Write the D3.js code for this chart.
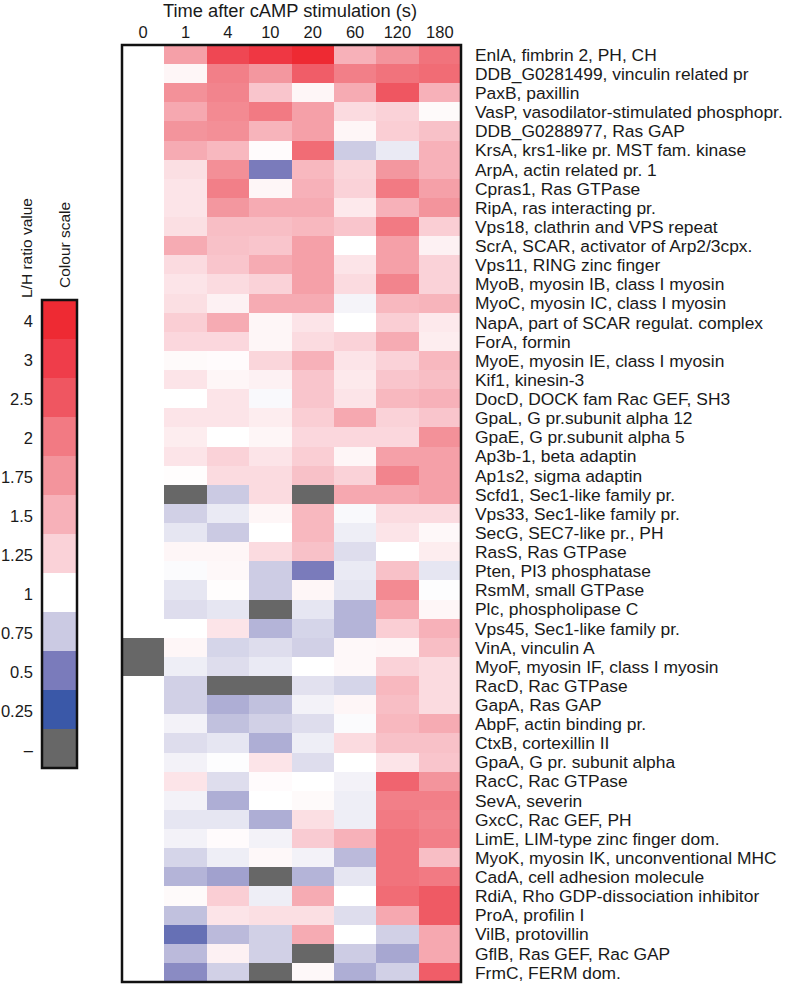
<!DOCTYPE html>
<html><head><meta charset="utf-8">
<script src="https://cdn.jsdelivr.net/npm/d3@7"></script>
<style>
body{margin:0;background:#fff}
text{font-family:"Liberation Sans",Arial,Helvetica,sans-serif;fill:#1a1a1a}
</style></head>
<body><svg id="chart" width="788" height="985"></svg>
<script>
const times = ["0","1","4","10","20","60","120","180"];
const proteins = [
"EnlA, fimbrin 2, PH, CH","DDB_G0281499, vinculin related pr","PaxB, paxillin",
"VasP, vasodilator-stimulated phosphopr.","DDB_G0288977, Ras GAP","KrsA, krs1-like pr. MST fam. kinase",
"ArpA, actin related pr. 1","Cpras1, Ras GTPase","RipA, ras interacting pr.","Vps18, clathrin and VPS repeat",
"ScrA, SCAR, activator of Arp2/3cpx.","Vps11, RING zinc finger","MyoB, myosin IB, class I myosin",
"MyoC, myosin IC, class I myosin","NapA, part of SCAR regulat. complex","ForA, formin",
"MyoE, myosin IE, class I myosin","Kif1, kinesin-3","DocD, DOCK fam Rac GEF, SH3",
"GpaL, G pr.subunit alpha 12","GpaE, G pr.subunit alpha 5","Ap3b-1, beta adaptin","Ap1s2, sigma adaptin",
"Scfd1, Sec1-like family pr.","Vps33, Sec1-like family pr.","SecG, SEC7-like pr., PH","RasS, Ras GTPase",
"Pten, PI3 phosphatase","RsmM, small GTPase","Plc, phospholipase C","Vps45, Sec1-like family pr.",
"VinA, vinculin A","MyoF, myosin IF, class I myosin","RacD, Rac GTPase","GapA, Ras GAP",
"AbpF, actin binding pr.","CtxB, cortexillin II","GpaA, G pr. subunit alpha","RacC, Rac GTPase",
"SevA, severin","GxcC, Rac GEF, PH","LimE, LIM-type zinc finger dom.","MyoK, myosin IK, unconventional MHC",
"CadA, cell adhesion molecule","RdiA, Rho GDP-dissociation inhibitor","ProA, profilin I",
"VilB, protovillin","GflB, Ras GEF, Rac GAP","FrmC, FERM dom."];

// L/H ratio per time point (null = missing value)
const t0 = [1,1,1,1,1,1,1,1,1,1, 1,1,1,1,1,1,1,1,1,1, 1,1,1,1,1,1,1,1,1,1, 1,null,null,1,1,1,1,1,1,1, 1,1,1,1,1,1,1,1,1];
const t1 = [1.65,1.05,1.78,1.58,1.75,1.55,1.18,1.15,1.15,1.18, 1.55,1.2,1.15,1.18,1.28,1.22,1.03,1.15,1.0,1.15,
            1.1,1.15,1.01,null,0.78,0.88,1.05,0.98,0.88,0.84, 1.0,1.05,0.92,0.78,0.78,0.94,0.84,0.94,1.15,0.94,
            0.88,0.94,0.8,0.68,1.03,0.72,0.42,0.7,0.55];
const t4 = [2.8,1.95,1.9,1.85,1.8,1.45,1.8,1.95,1.72,1.4, 1.38,1.35,1.2,1.08,1.55,1.22,1.02,1.05,1.15,1.15,
            1.0,1.25,1.2,0.75,0.9,0.75,1.05,1.04,1.01,0.88, 1.15,0.8,0.84,null,0.66,0.72,0.88,0.99,0.84,0.66,
            0.88,1.02,0.92,0.62,1.28,1.15,0.7,1.08,0.78];
const t10 = [3.3,1.72,1.35,2.0,1.48,1.02,0.5,1.05,1.55,1.4, 1.35,1.55,1.25,1.55,1.05,1.05,1.23,1.08,0.97,1.1,
             1.05,1.15,1.2,1.2,1.05,1.0,1.2,0.76,0.76,null, 0.68,0.84,0.9,null,0.72,0.78,0.66,1.15,1.02,1.0,
             0.66,0.94,1.04,null,0.92,1.18,0.78,0.78,null];
const t20 = [4.0,2.4,1.05,1.65,1.65,2.2,1.45,1.5,1.55,1.45, 1.65,1.65,1.65,1.55,1.15,1.2,1.5,1.35,1.35,1.28,
             1.22,1.28,1.38,null,1.45,1.45,1.38,0.5,1.05,0.88, 0.8,0.78,1.0,0.86,0.94,0.84,0.92,0.84,1.0,1.03,
             1.18,1.3,0.94,0.68,1.55,1.18,1.55,null,1.04];
const t60 = [1.5,1.95,1.55,1.2,1.05,0.76,1.23,1.25,1.12,1.35, 1.0,1.15,1.2,0.95,1.0,1.25,1.15,1.12,1.15,1.58,
             1.22,1.05,1.25,1.58,0.97,0.92,0.84,0.9,0.88,0.68, 0.68,1.04,1.04,0.8,1.05,0.98,1.2,1.0,0.94,0.92,
             0.92,1.5,0.7,0.88,1.0,0.84,1.0,0.76,0.66];
const t120 = [1.75,2.1,2.5,1.25,1.28,0.9,1.72,2.0,1.5,2.0, 1.65,1.65,1.9,1.45,1.28,1.55,1.25,1.35,1.45,1.25,
              1.22,1.65,1.9,1.58,1.2,1.15,1.0,1.38,1.85,1.58, 1.28,1.05,1.25,1.45,1.4,1.45,1.38,1.15,2.3,1.95,
              2.0,2.1,2.1,2.1,2.2,1.58,0.78,0.64,0.78];
const t180 = [2.1,2.2,1.5,1.03,1.38,1.5,1.5,1.65,1.75,1.28, 1.08,1.25,1.25,1.48,1.12,1.1,1.45,1.4,1.5,1.35,
              1.78,1.65,1.65,1.65,1.2,1.04,1.1,0.88,0.99,1.05, 1.5,1.4,1.2,1.2,1.2,1.55,1.38,1.35,1.75,1.95,
              1.9,1.95,1.4,2.0,2.45,2.45,1.58,1.58,2.4];
const series = [t0,t1,t4,t10,t20,t60,t120,t180];

const legendLabels = ["4","3","2.5","2","1.75","1.5","1.25","1","0.75","0.5","0.25","–"];
const legendValues = [4,3,2.5,2,1.75,1.5,1.25,1,0.75,0.5,0.25,null];
const stopValues = [0.25,0.5,0.75,1,1.25,1.5,1.75,2,2.5,3,4];
const stopColors = ["#3a58a8","#7a7bbb","#cbcae3","#ffffff","#fad2d8","#f7b1b9","#f3949c","#f27a83","#ef5661","#ef3d4a","#ee2a33"];
const missingColor = "#676767";

const color = d3.scaleLinear().domain(stopValues).range(stopColors).interpolate(d3.interpolateRgb).clamp(true);
const fill = v => v == null ? missingColor : color(v);

const svg = d3.select("#chart");
const x = d3.scaleBand().domain(times).range([122, 461]);
const y = d3.scaleBand().domain(proteins).range([45, 982]);

const cells = [];
times.forEach((t, i) => proteins.forEach((p, j) => cells.push({t, p, v: series[i][j]})));

svg.append("g").attr("shape-rendering","crispEdges")
  .selectAll("rect").data(cells).join("rect")
  .attr("x", d => x(d.t)).attr("y", d => y(d.p))
  .attr("width", x.bandwidth()+0.5).attr("height", y.bandwidth()+0.5)
  .attr("fill", d => fill(d.v));

svg.append("rect").attr("x",122).attr("y",45).attr("width",339).attr("height",937)
  .attr("fill","none").attr("stroke","#111").attr("stroke-width",2.5);

// column axis
const gx = svg.append("g").attr("transform","translate(0,45)")
  .call(d3.axisTop(x).tickSize(0).tickPadding(7));
gx.select(".domain").remove();
gx.selectAll("text").attr("font-size",16.5).attr("font-family",null).style("fill","#1a1a1a");

svg.append("text").attr("x",290).attr("y",17).attr("text-anchor","middle")
  .attr("font-size",18.3).text("Time after cAMP stimulation (s)");

// row axis
const gy = svg.append("g").attr("transform","translate(461,0)")
  .call(d3.axisRight(y).tickSize(0).tickPadding(14));
gy.select(".domain").remove();
gy.selectAll("text").attr("font-size",17.4).attr("font-family",null).attr("dy","0.36em").style("fill","#1a1a1a");

// legend
const ly = d3.scaleBand().domain(legendLabels).range([300, 768]);
svg.append("g").attr("shape-rendering","crispEdges").selectAll("rect")
  .data(legendLabels).join("rect")
  .attr("x",42).attr("y",d=>ly(d)).attr("width",35).attr("height",ly.bandwidth()+0.5)
  .attr("fill",(d,i)=>fill(legendValues[i]));
svg.append("rect").attr("x",42).attr("y",300).attr("width",35).attr("height",468)
  .attr("fill","none").attr("stroke","#111").attr("stroke-width",2.5);
const gl = svg.append("g").attr("transform","translate(42,0)")
  .call(d3.axisLeft(ly).tickSize(0).tickPadding(9));
gl.select(".domain").remove();
gl.selectAll("text").attr("font-size",16.5).attr("font-family",null).attr("dy","0.45em").style("fill","#1a1a1a");

svg.append("text").attr("transform","translate(32,298) rotate(-90)").attr("font-size",15.5).text("L/H ratio value");
svg.append("text").attr("transform","translate(70,288) rotate(-90)").attr("font-size",15.5).text("Colour scale");
</script></body></html>
